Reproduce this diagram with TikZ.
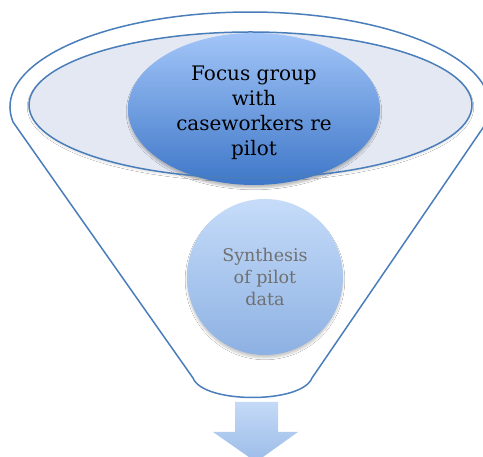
\documentclass[tikz,border=0pt]{standalone}
\usepackage{fontspec}
\newfontfamily\stagefont{DejaVu Serif}
\usetikzlibrary{shapes.geometric,shadows.blur}
\definecolor{rimline}{HTML}{4A7EBB}
\definecolor{rimfill}{HTML}{E3E8F3}
\definecolor{darktop}{HTML}{A2C5F8}
\definecolor{darkbot}{HTML}{3E77C8}
\definecolor{lighttop}{HTML}{C6DCF9}
\definecolor{lightbot}{HTML}{8DB1E3}
\definecolor{arrowtop}{HTML}{C4D9F7}
\definecolor{arrowbot}{HTML}{9CBCE8}
\definecolor{softtext}{HTML}{707070}
\tikzset{
  outline/.style={draw=rimline, line width=1.5pt},
  stagebig/.style={ellipse, inner sep=0pt, outer sep=0pt,
    top color=darktop, bottom color=darkbot,
    blur shadow={shadow xshift=0pt, shadow yshift=-3pt, shadow blur steps=6, shadow opacity=25}},
  stagebigtext/.style={align=center, inner sep=0pt,
    font={\stagefont\fontsize{20}{25}\selectfont}},
  stagesmall/.style={circle, inner sep=0pt, outer sep=0pt,
    top color=lighttop, bottom color=lightbot, align=center, text=softtext,
    font={\stagefont\fontsize{17.5}{21.7}\selectfont},
    blur shadow={shadow xshift=0pt, shadow yshift=-3pt, shadow blur steps=6, shadow opacity=20}},
}
\begin{document}
\begin{tikzpicture}[x=1pt,y=1pt]
\useasboundingbox (0,0) rectangle (483,457);
\clip (0,0) rectangle (483,457);

% funnel body: top ellipse, straight sides, rounded bottom
\path[outline, fill=white] (13,335)
  arc[start angle=189.08, end angle=-9.08, x radius=240, y radius=95]
  -- (312,79) .. controls (302,53) and (203,53) .. (193,79) -- cycle;

% rim of the funnel opening
\node[ellipse, inner sep=0pt, outer sep=0pt, minimum width=443pt, minimum height=146pt,
  fill=rimfill,
  blur shadow={shadow xshift=0pt, shadow yshift=-2pt, shadow blur steps=5, shadow opacity=12}]
  (rim) at (250.5,352) {};

% first stage
\node[stagebig, minimum width=252pt, minimum height=152pt] (focus) at (254,348) {};
\node[stagebigtext] (focuslabel) at ([yshift=-4pt]focus.center)
  {Focus group\\with\\caseworkers re\\pilot};

% rim outline drawn over the first stage
\node[ellipse, inner sep=0pt, outer sep=0pt, minimum width=443pt, minimum height=146pt,
  outline] (rimedge) at (rim.center) {};

% second stage
\node[stagesmall, minimum size=156pt] (synth) at (265,180)
  {Synthesis\\of pilot\\data};

% output arrow below the funnel
\path[top color=arrowtop, bottom color=arrowbot]
  (235,55) -- (278,55) -- (278,25) -- (298,25) -- (256,-5) -- (213,25) -- (235,25) -- cycle;
\end{tikzpicture}
\end{document}
